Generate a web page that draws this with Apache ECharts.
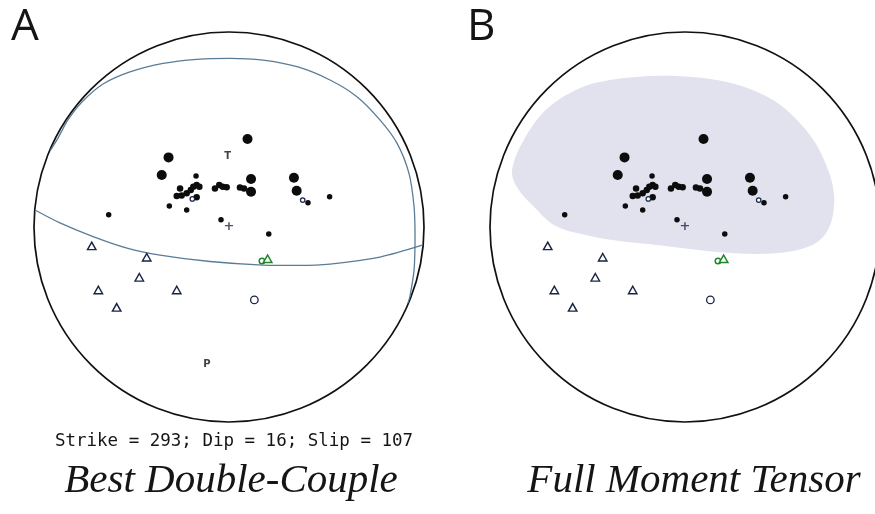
<!DOCTYPE html>
<html>
<head>
<meta charset="utf-8">
<script src="https://cdn.jsdelivr.net/npm/echarts@6/dist/echarts.min.js"></script>
<style>
html,body{margin:0;padding:0;background:#fff;}
#chart{width:875px;height:514px;}
</style>
</head>
<body>
<div id="chart"></div>
<script>
// All positions in stereonet units: x = east, y = north, radius of the primitive circle = 1
const bigDots = [[0.095,0.451],[-0.310,0.357],[-0.345,0.267],[0.113,0.246],[0.113,0.181],[0.333,0.253],[0.347,0.186]];
const midDots = [[-0.251,0.198],[-0.268,0.159],[-0.243,0.161],[-0.217,0.173],[-0.196,0.190],[-0.183,0.207],[-0.166,0.215],[-0.152,0.207],
  [-0.072,0.198],[-0.050,0.215],[-0.032,0.207],[-0.012,0.204],[0.056,0.202],[0.077,0.198],[-0.166,0.152]];
const smallDots = [[-0.617,0.063],[-0.306,0.108],[-0.217,0.087],[-0.041,0.037],[0.204,-0.036],[-0.169,0.262],[0.405,0.125],[0.516,0.155]];
const openSmall = [[-0.188,0.144],[0.378,0.138]];
const openCircle = [[0.130,-0.374]];
const greenCircle = [[0.169,-0.174]];
const greenTriangle = [[0.198,-0.163]];
const triangles = [[-0.704,-0.097],[-0.422,-0.155],[-0.460,-0.258],[-0.670,-0.323],[-0.268,-0.323],[-0.576,-0.412]];
const axisLabels = [{name:'T', pos:[-0.007,0.361]},{name:'P', pos:[-0.113,-0.704]}];
const centerMark = [[0,0]];
const nodalPlane1 = [[-0.995,0.087],[-0.867,0.021],[-0.697,-0.049],[-0.523,-0.108],[-0.354,-0.144],[-0.097,-0.177],[0.174,-0.195],[0.364,-0.197],[0.518,-0.190],[0.774,-0.154],[0.995,-0.092]];
const nodalPlane2 = [[-0.918,0.390],[-0.877,0.456],[-0.826,0.549],[-0.754,0.641],[-0.646,0.733],[-0.508,0.795],[-0.338,0.839],[-0.164,0.860],[0.005,0.865],[0.174,0.856],[0.349,0.822],[0.518,0.754],[0.656,0.668],[0.774,0.549],[0.862,0.429],[0.923,0.275],[0.949,0.104],[0.954,-0.046],[0.949,-0.221],[0.928,-0.354],[0.918,-0.390]];
const shadedRegion = [[-0.887,0.292],[-0.862,0.205],[-0.779,0.108],[-0.662,0.005],[-0.487,-0.046],[-0.318,-0.074],[-0.144,-0.092],[0.026,-0.113],[0.195,-0.131],[0.369,-0.138],[0.538,-0.126],[0.672,-0.082],[0.738,-0.005],[0.764,0.103],[0.759,0.205],[0.728,0.308],[0.662,0.441],[0.559,0.564],[0.451,0.651],[0.292,0.723],[0.128,0.759],[-0.041,0.774],[-0.215,0.772],[-0.385,0.754],[-0.538,0.713],[-0.703,0.610],[-0.821,0.456]];
const panelLetters = ['A','B'];
const mechanismText = 'Strike = 293; Dip = 16; Slip = 107';
const panelTitles = ['Best Double-Couple','Full Moment Tensor'];

function toPolar(p){
  const r = Math.hypot(p[0], p[1]);
  const a = (Math.atan2(p[0], p[1]) * 180 / Math.PI + 360) % 360;
  return [r, a];
}
const P = arr => arr.map(toPolar);

const chart = echarts.init(document.getElementById('chart'), null, {renderer:'canvas'});

const DOT = '#0c0c0c', NAVY = '#1a2545', GREEN = '#23852a', PLANE = '#5a7c96';

function angleAxis(i){
  return {polarIndex:i, type:'value', min:0, max:360, startAngle:90, clockwise:true,
    axisLine:{show:true, lineStyle:{color:'#111', width:1.7}},
    axisTick:{show:false}, axisLabel:{show:false}, splitLine:{show:false}};
}
function radiusAxis(i){
  return {polarIndex:i, type:'value', min:0, max:1,
    axisLine:{show:false}, axisTick:{show:false}, axisLabel:{show:false}, splitLine:{show:false}};
}

function sc(pi, z, symbol, size, style, data){
  return {type:'scatter', coordinateSystem:'polar', polarIndex:pi, z:z, symbol:symbol, symbolSize:size,
    itemStyle:Object.assign({opacity:1}, style), data:P(data), silent:true};
}

function markSeries(pi){
  return [
    sc(pi, 5, 'circle', 10, {color:DOT}, bigDots),
    sc(pi, 5, 'circle', 6.5, {color:DOT}, midDots),
    sc(pi, 5, 'circle', 5.5, {color:DOT}, smallDots),
    sc(pi, 6, 'circle', 4.5, {color:'#fff', borderColor:NAVY, borderWidth:1.2}, openSmall),
    sc(pi, 6, 'circle', 7.5, {color:'#fff', borderColor:NAVY, borderWidth:1.3}, openCircle),
    sc(pi, 6, 'circle', 5.5, {color:'#fff', borderColor:GREEN, borderWidth:1.5}, greenCircle),
    sc(pi, 6, 'triangle', [8.5,7.5], {color:'#fff', borderColor:GREEN, borderWidth:1.5}, greenTriangle),
    sc(pi, 6, 'triangle', [8.5,7.5], {color:'#fff', borderColor:NAVY, borderWidth:1.4}, triangles),
    {type:'scatter', coordinateSystem:'polar', polarIndex:pi, z:6, symbolSize:0,
      label:{show:true, position:'inside', formatter:'+', color:NAVY, fontFamily:'DejaVu Sans', fontSize:13, fontWeight:'bold'},
      data:P(centerMark), silent:true}
  ];
}

const series = [];
// Panel A: nodal planes and labels
series.push({type:'line', coordinateSystem:'polar', polarIndex:0, z:3, smooth:0.3, showSymbol:false,
  lineStyle:{color:PLANE, width:1.3}, data:P(nodalPlane1), silent:true});
series.push({type:'line', coordinateSystem:'polar', polarIndex:0, z:3, smooth:0.3, showSymbol:false,
  lineStyle:{color:PLANE, width:1.3}, data:P(nodalPlane2), silent:true});
series.push({type:'scatter', coordinateSystem:'polar', polarIndex:0, z:6, symbolSize:0,
  label:{show:true, position:'inside', formatter:p=>p.name, color:'#111', fontFamily:'DejaVu Sans', fontSize:10, fontWeight:'bold'},
  data:axisLabels.map(d=>({name:d.name, value:toPolar(d.pos)})), silent:true});
series.push(...markSeries(0));
// Panel B: shaded compressional region
const shadePolar = P(shadedRegion);
series.push({type:'custom', coordinateSystem:'polar', polarIndex:1, z:1, silent:true,
  data:shadePolar,
  renderItem:function(params, api){
    if (params.dataIndex !== 0) return null;
    const pts = shadePolar.map(d => api.coord(d));
    return {type:'polygon', shape:{points:pts, smooth:0.35}, style:{fill:'#e2e2ee', stroke:null}};
  }});
series.push(...markSeries(1));

chart.setOption({
  backgroundColor:'#fff',
  animation:false,
  polar:[{center:[229,227], radius:195},{center:[685,227], radius:195}],
  angleAxis:[angleAxis(0), angleAxis(1)],
  radiusAxis:[radiusAxis(0), radiusAxis(1)],
  title:[
    {text:panelLetters[0], left:11, top:5, padding:0, textStyle:{fontFamily:'Open Sans', fontWeight:'normal', fontSize:44, color:'#151515'}},
    {text:panelLetters[1], left:467, top:5, padding:0, textStyle:{fontFamily:'Open Sans', fontWeight:'normal', fontSize:44, color:'#151515'}},
    {text:mechanismText, left:234, top:432, padding:0, textAlign:'center', textStyle:{fontFamily:'DejaVu Sans Mono', fontWeight:'normal', fontSize:17.5, color:'#151515'}},
    {text:panelTitles[0], left:231, top:461, padding:0, textAlign:'center', textStyle:{fontFamily:'Liberation Serif', fontStyle:'italic', fontWeight:'normal', fontSize:41, color:'#151515'}},
    {text:panelTitles[1], left:694, top:461, padding:0, textAlign:'center', textStyle:{fontFamily:'Liberation Serif', fontStyle:'italic', fontWeight:'normal', fontSize:41, color:'#151515'}}
  ],
  series:series
});
</script>
</body>
</html>
